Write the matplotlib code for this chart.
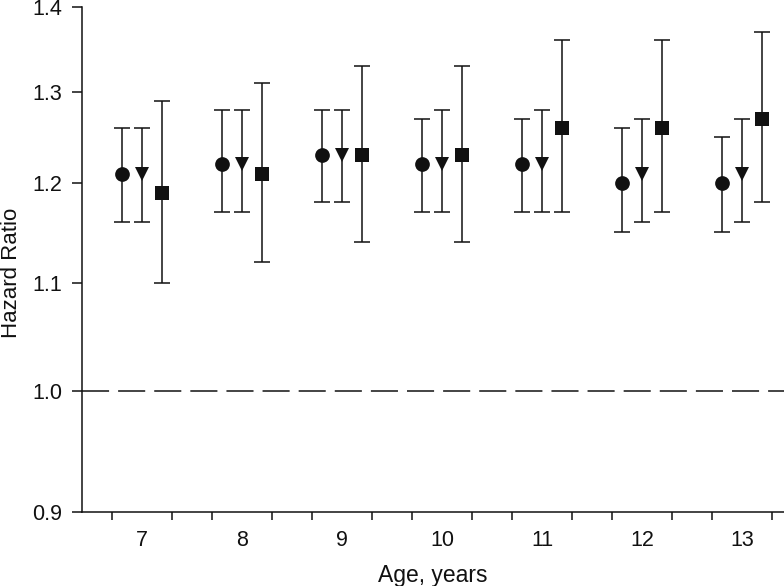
import matplotlib
matplotlib.use("Agg")
import matplotlib.pyplot as plt
from matplotlib.ticker import FixedLocator, FixedFormatter, NullLocator, NullFormatter

plt.rcParams['font.family'] = ['Liberation Sans', 'DejaVu Sans']
plt.rcParams['lines.scale_dashes'] = False

ages = [7, 8, 9, 10, 11, 12, 13]

circle_hr = [1.21, 1.22, 1.23, 1.22, 1.22, 1.20, 1.20]
circle_lo = [1.16, 1.17, 1.18, 1.17, 1.17, 1.15, 1.15]
circle_hi = [1.26, 1.28, 1.28, 1.27, 1.27, 1.26, 1.25]

tri_hr = [1.21, 1.22, 1.23, 1.22, 1.22, 1.21, 1.21]
tri_lo = [1.16, 1.17, 1.18, 1.17, 1.17, 1.16, 1.16]
tri_hi = [1.26, 1.28, 1.28, 1.28, 1.28, 1.27, 1.27]

sq_hr = [1.19, 1.21, 1.23, 1.23, 1.26, 1.26, 1.27]
sq_lo = [1.10, 1.12, 1.14, 1.14, 1.17, 1.17, 1.18]
sq_hi = [1.29, 1.31, 1.33, 1.33, 1.36, 1.36, 1.37]

yticks = [0.9, 1.0, 1.1, 1.2, 1.3, 1.4]
ytick_labels = ['0.9', '1.0', '1.1', '1.2', '1.3', '1.4']
xtick_labels = ['7', '8', '9', '10', '11', '12', '13']

fig = plt.figure(figsize=(7.84, 5.86), dpi=100)
ax = fig.add_axes([82/784, 1 - 511.7/586, 1 - 82/784, (511.7 - 7.3)/586])

ink = '#111111'
series = [
    (circle_hr, circle_lo, circle_hi, 'o', -0.2, 10.6),
    (tri_hr, tri_lo, tri_hi, 'v', 0.0, 10.4),
    (sq_hr, sq_lo, sq_hi, 's', 0.2, 9.4),
]
for hr, lo, hi, mk, off, ms in series:
    xs = [a + off for a in ages]
    yerr = [[h - l for h, l in zip(hr, lo)], [u - h for h, u in zip(hr, hi)]]
    ax.errorbar(xs, hr, yerr=yerr, fmt='none', ecolor=ink, elinewidth=1.1,
                capsize=5.5, capthick=1.1, zorder=3)
    ax.plot(xs, hr, linestyle='none', marker=mk, ms=ms, color=ink,
            markeredgewidth=0, zorder=4)

ax.axhline(1.0, color=ink, lw=1.1, dashes=(19.5, 6.5), zorder=2)

ax.set_yscale('log')
ax.set_ylim(0.9, 1.4)
ax.set_xlim(6.4, 13.42)
ax.yaxis.set_major_locator(FixedLocator(yticks))
ax.yaxis.set_major_formatter(FixedFormatter(ytick_labels))
ax.yaxis.set_minor_locator(NullLocator())
ax.yaxis.set_minor_formatter(NullFormatter())

ax.xaxis.set_major_locator(FixedLocator(ages))
ax.xaxis.set_major_formatter(FixedFormatter(xtick_labels))
minor = []
for a in ages:
    minor += [a - 0.3, a + 0.3]
ax.xaxis.set_minor_locator(FixedLocator(minor))
ax.xaxis.set_minor_formatter(NullFormatter())

ax.tick_params(axis='x', which='major', length=0, pad=13, labelsize=15.5, colors=ink)
ax.tick_params(axis='x', which='minor', length=6, width=1.1, direction='out', color=ink)
ax.tick_params(axis='y', which='major', length=7, width=1.1, direction='out', pad=7,
               labelsize=15.5, colors=ink)

for s in ['top', 'right']:
    ax.spines[s].set_visible(False)
for s in ['left', 'bottom']:
    ax.spines[s].set_linewidth(1.1)
    ax.spines[s].set_color(ink)

ax.set_xlabel('Age, years', fontsize=16.5, color=ink)
ax.set_ylabel('Hazard Ratio', fontsize=16, color=ink)
ax.xaxis.set_label_coords(0.5, -0.126)
ax.yaxis.set_label_coords((1 - 82) / 702, 0.473)
ax.xaxis.label.set_va('center')
ax.yaxis.label.set_va('top')

fig.savefig('out.png', dpi=100)
